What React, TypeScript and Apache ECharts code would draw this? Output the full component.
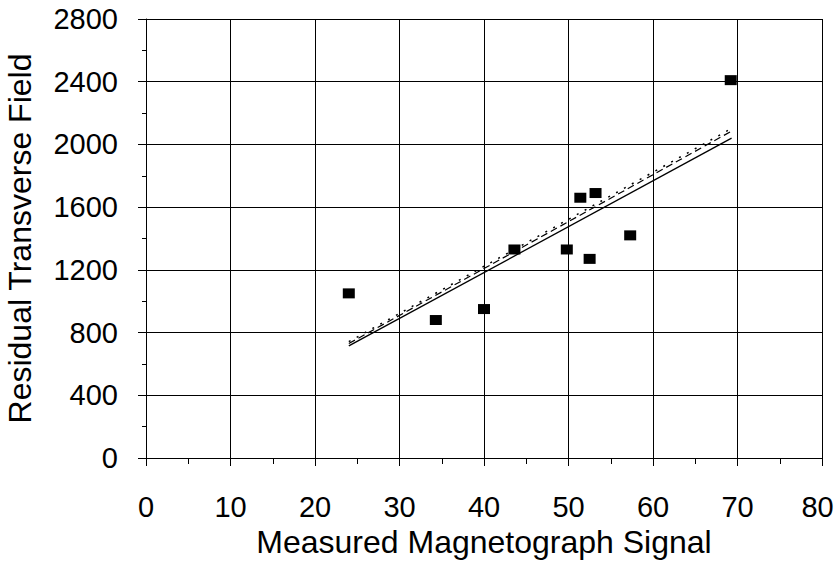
import React, { useEffect, useRef } from "react";
import * as echarts from "echarts";

const signalX = [24, 34.3, 40, 43.6, 49.8, 51.4, 53.2, 52.5, 57.3, 69.2];
const fieldY = [1050, 880, 950, 1330, 1330, 1660, 1690, 1270, 1420, 2410];
const solidFit = [[24, 715], [69.3, 2040]];
const dashedFit = [[24, 730], [69.3, 2085]];
const dottedFit = [[24, 742], [69.3, 2102]];

const FONT = "'Liberation Sans', Arial, Helvetica, sans-serif";

export default function App() {
  const ref = useRef<HTMLDivElement>(null);
  useEffect(() => {
    if (!ref.current) return;
    const chart = echarts.init(ref.current, null, { renderer: "svg" });
    const pts = signalX.map((x, i) => [x, fieldY[i]]);
    chart.setOption({
      animation: false,
      backgroundColor: "#fff",
      grid: { left: 146, right: 14, top: 19, bottom: 107, outerBoundsMode: "none", containLabel: false },
      xAxis: {
        type: "value",
        min: 0,
        max: 80,
        interval: 10,
        name: "Measured Magnetograph Signal",
        nameLocation: "middle",
        nameGap: 66,
        nameTextStyle: { fontFamily: FONT, fontSize: 32, color: "#000" },
        axisLine: { show: true, onZero: false, lineStyle: { color: "#000", width: 1 } },
        axisTick: { show: true, inside: false, length: 8, lineStyle: { color: "#000" } },
        minorTick: { show: true, splitNumber: 2, length: 6, lineStyle: { color: "#000" } },
        axisLabel: {
          fontFamily: FONT,
          fontSize: 29,
          color: "#000",
          margin: 34,
          formatter: (v: number) => (v === 80 ? "{m|80}" : String(v)),
          rich: { m: { fontFamily: FONT, fontSize: 29, color: "#000", padding: [0, 9, 0, 0] } },
        },
        splitLine: { show: true, lineStyle: { color: "#000", width: 1 } },
      },
      yAxis: {
        type: "value",
        min: 0,
        max: 2800,
        interval: 400,
        name: "Residual Transverse Field",
        nameLocation: "middle",
        nameGap: 110,
        nameTextStyle: { fontFamily: FONT, fontSize: 32, color: "#000" },
        axisLine: { show: true, onZero: false, lineStyle: { color: "#000", width: 1 } },
        axisTick: { show: true, inside: false, length: 8, lineStyle: { color: "#000" } },
        minorTick: { show: true, splitNumber: 2, length: 4, lineStyle: { color: "#000" } },
        axisLabel: { fontFamily: FONT, fontSize: 29, color: "#000", margin: 28, formatter: (v: number) => String(v) },
        splitLine: { show: true, lineStyle: { color: "#000", width: 1 } },
      },
      series: [
        {
          type: "line",
          data: solidFit,
          showSymbol: false,
          lineStyle: { color: "#000", width: 1.3, type: "solid" },
          z: 2,
        },
        {
          type: "line",
          data: dashedFit,
          showSymbol: false,
          lineStyle: { color: "#000", width: 1.2, type: [7, 4] },
          z: 2,
        },
        {
          type: "line",
          data: dottedFit,
          showSymbol: false,
          lineStyle: { color: "#000", width: 1.5, type: [2, 7] },
          z: 2,
        },
        {
          type: "scatter",
          data: pts,
          symbol: "rect",
          symbolSize: [12, 10],
          itemStyle: { color: "#000", opacity: 1 },
          z: 3,
        },
      ],
    });
    return () => chart.dispose();
  }, []);
  return (
    <div
      ref={ref}
      style={{ width: 836, height: 565, position: "absolute", left: 0, top: 0 }}
    />
  );
}
